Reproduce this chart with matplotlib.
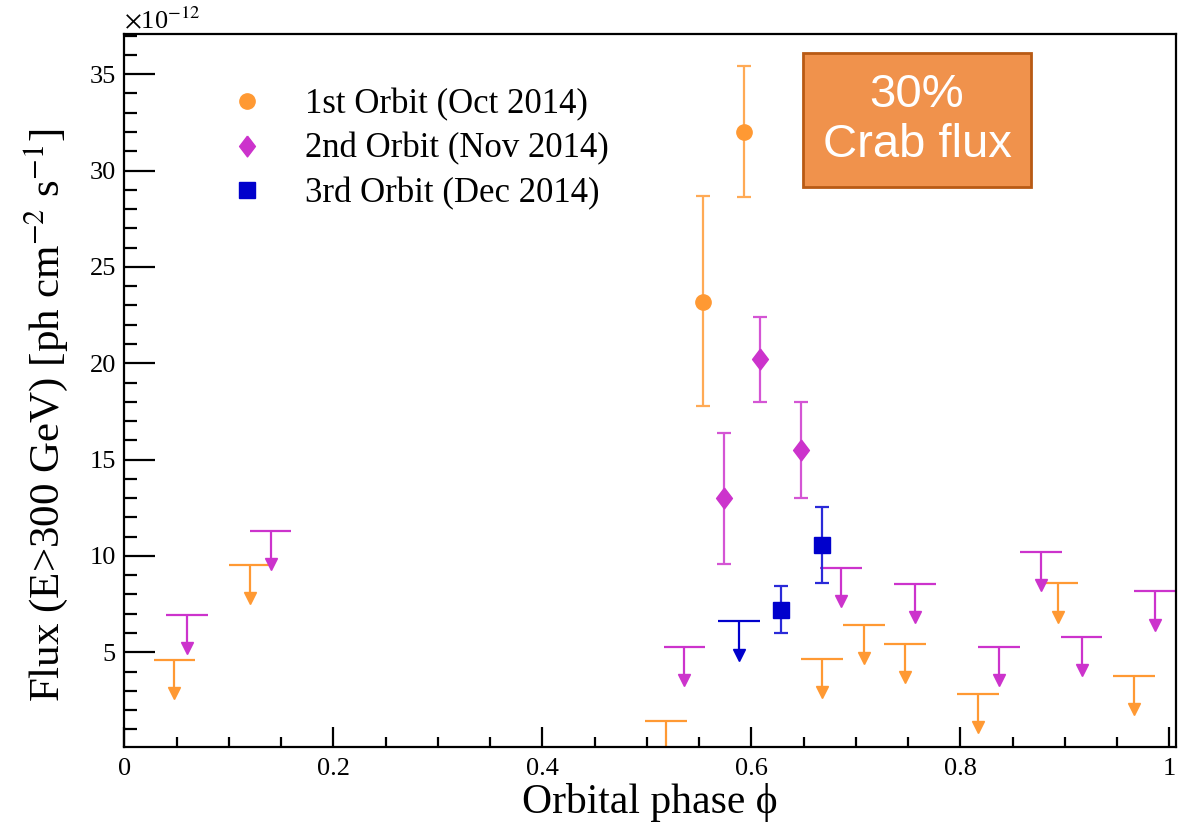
import numpy as np
import matplotlib
matplotlib.use("Agg")
import matplotlib.pyplot as plt
from matplotlib.lines import Line2D
from matplotlib.ticker import MultipleLocator, FormatStrFormatter

plt.rcParams['font.family'] = ['Liberation Serif', 'DejaVu Serif']
plt.rcParams['mathtext.fontset'] = 'stix'

# detections (flux in units of 1e-12 ph cm-2 s-1)
orb1_phase = [0.554, 0.593]
orb1_flux = [23.2, 32.0]
orb1_elo = [5.4, 3.35]
orb1_ehi = [5.5, 3.4]

orb2_phase = [0.574, 0.608, 0.648]
orb2_flux = [13.0, 20.2, 15.5]
orb2_elo = [3.4, 2.2, 2.5]
orb2_ehi = [3.4, 2.2, 2.5]

orb3_phase = [0.628, 0.668]
orb3_flux = [7.22, 10.56]
orb3_elo = [1.2, 1.95]
orb3_ehi = [1.2, 2.0]

# upper limits
ul1_phase = [0.048, 0.120, 0.518, 0.668, 0.7075, 0.747, 0.817, 0.893, 0.9665]
ul1_flux = [4.6, 9.55, 1.45, 4.66, 6.40, 5.44, 2.82, 8.57, 3.77]

ul2_phase = [0.060, 0.140, 0.536, 0.686, 0.757, 0.837, 0.877, 0.916, 0.986]
ul2_flux = [6.92, 11.31, 5.26, 9.39, 8.54, 5.28, 10.22, 5.78, 8.16]

ul3_phase = [0.588]
ul3_flux = [6.60]

labels = ["1st Orbit (Oct 2014)", "2nd Orbit (Nov 2014)", "3rd Orbit (Dec 2014)"]

c_orange = '#FF9933'
c_magenta = '#CC33CC'
c_blue = '#0000CC'
l_orange = '#FFAA55'
l_magenta = '#D455D4'
l_blue = '#2A2AD8'

# ROOT style diamond (wider than matplotlib's thin diamond)
diamond = [(0, 1), (0.76, 0), (0, -1), (-0.76, 0), (0, 1)]

fig = plt.figure(figsize=(11.87, 8.33), dpi=100)
ax = fig.add_axes([0.1047, 0.1036, 0.8857, 0.8552])


def upper_limits(phase, flux, col):
    phase = np.array(phase)
    flux = np.array(flux)
    ax.hlines(flux, phase - 0.02, phase + 0.02, color=col, lw=1.6)
    ax.vlines(phase, flux - 1.72, flux, color=col, lw=1.6)
    ax.plot(phase, flux - 1.72, 'v', color=col, ms=8.8, mec=col)


upper_limits(ul1_phase, ul1_flux, c_orange)
upper_limits(ul2_phase, ul2_flux, c_magenta)
upper_limits(ul3_phase, ul3_flux, c_blue)

ax.errorbar(orb1_phase, orb1_flux, yerr=[orb1_elo, orb1_ehi], fmt='o', color=c_orange,
            ecolor=l_orange, ms=11, elinewidth=1.6, capsize=5, capthick=1.6)
ax.errorbar(orb2_phase, orb2_flux, yerr=[orb2_elo, orb2_ehi], fmt='none',
            ecolor=l_magenta, elinewidth=1.6, capsize=5, capthick=1.6)
ax.plot(orb2_phase, orb2_flux, ls='none', marker=diamond, color=c_magenta, ms=15)
ax.errorbar(orb3_phase, orb3_flux, yerr=[orb3_elo, orb3_ehi], fmt='s', color=c_blue,
            ecolor=l_blue, ms=11, elinewidth=1.6, capsize=5, capthick=1.6)

ax.set_xlim(0, 1.006)
ax.set_ylim(0.1, 37.07)

ax.xaxis.set_major_locator(MultipleLocator(0.2))
ax.xaxis.set_minor_locator(MultipleLocator(0.05))
ax.yaxis.set_major_locator(MultipleLocator(5))
ax.yaxis.set_minor_locator(MultipleLocator(1))
ax.xaxis.set_major_formatter(FormatStrFormatter('%g'))
ax.yaxis.set_major_formatter(FormatStrFormatter('%g'))
ax.set_yticks([5, 10, 15, 20, 25, 30, 35])

ax.tick_params(axis='both', which='both', direction='in', width=1.6, labelsize=19,
               top=False, right=False)
ax.tick_params(axis='x', which='major', length=14.5, pad=8)
ax.tick_params(axis='x', which='minor', length=7.2)
ax.tick_params(axis='y', which='major', length=22, pad=6)
ax.tick_params(axis='y', which='minor', length=9.5)
for s in ax.spines.values():
    s.set_linewidth(1.6)

ax.set_xlabel("Orbital phase ϕ", fontsize=30, labelpad=2)
ax.set_ylabel(r"Flux (E>300 GeV) [ph cm$^{-2}$ s$^{-1}$]", fontsize=31)
ax.yaxis.set_label_coords(-0.052, 0.4656)

ax.text(0.0, 1.002, r"$\times$10$^{-12}$", transform=ax.transAxes, fontsize=19,
        ha='left', va='bottom')

handles = [Line2D([], [], ls='none', marker='o', color=c_orange, ms=11),
           Line2D([], [], ls='none', marker=diamond, color=c_magenta, ms=15),
           Line2D([], [], ls='none', marker='s', color=c_blue, ms=11)]
ax.legend(handles, labels, loc='upper left', bbox_to_anchor=(0.1002, 0.924),
          frameon=False, fontsize=25, handlelength=1.0, handletextpad=1.17,
          labelspacing=0.315, borderpad=0, borderaxespad=0)

ax.text(0.754, 0.8797, "30%\nCrab flux", transform=ax.transAxes, ha='center', va='center',
        fontsize=34, color='white', family='Liberation Sans', linespacing=1.2,
        bbox=dict(boxstyle='square,pad=0.42', fc='#F0924C', ec='#B85A14', lw=2))

fig.savefig('out.png', dpi=100)
